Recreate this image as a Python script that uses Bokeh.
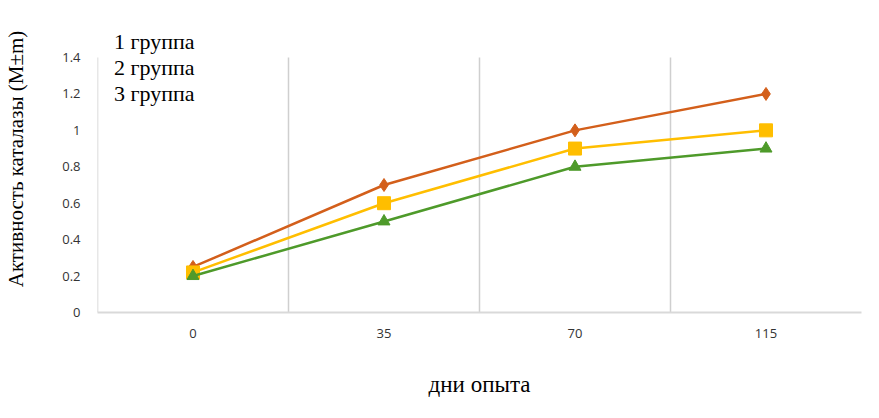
from bokeh.plotting import figure
from bokeh.models import FixedTicker, Legend, LegendItem, BoxAnnotation
from bokeh.embed import file_html
from bokeh.resources import INLINE

# ---- data ----
days = ["0", "35", "70", "115"]
group_names = ["1 группа", "2 группа", "3 группа"]
g1 = [0.25, 0.70, 1.00, 1.20]
g2 = [0.22, 0.60, 0.90, 1.00]
g3 = [0.20, 0.50, 0.80, 0.90]
y_ticks = [0, 0.2, 0.4, 0.6, 0.8, 1.0, 1.2, 1.4]
y_tick_labels = ["0", "0.2", "0.4", "0.6", "0.8", "1", "1.2", "1.4"]

# category centres on a numeric axis (one unit per category)
xs = [i + 0.5 for i in range(len(days))]
bounds = list(range(len(days)))
y_max = y_ticks[-1]

W, H = 863, 402
FRAME_TOP, FRAME_BOTTOM, VALUE_TOP = 5, 312, 57   # pixel layout
y_top = y_max * (FRAME_BOTTOM - FRAME_TOP) / (FRAME_BOTTOM - VALUE_TOP)

p = figure(width=W, height=H, output_backend="svg", toolbar_location=None,
           x_range=(0, len(days)), y_range=(0, y_top),
           min_border_left=97, min_border_right=2, min_border_top=FRAME_TOP,
           min_border_bottom=H - FRAME_BOTTOM)
p.outline_line_color = None
p.background_fill_color = "white"
p.border_fill_color = "white"

# chart area border (light)
p.add_layout(BoxAnnotation(left=47, right=875, top=-5, bottom=392,
                           left_units="canvas", right_units="canvas",
                           top_units="canvas", bottom_units="canvas",
                           fill_alpha=0, line_color="#d6d6d6", line_width=1.5,
                           level="overlay"))

# axes
p.xaxis.ticker = FixedTicker(ticks=xs)
p.xaxis.major_label_overrides = {x: d for x, d in zip(xs, days)}
p.xaxis.major_tick_line_color = None
p.xaxis.minor_tick_line_color = None
p.xaxis.axis_line_color = "#d9d9d9"
p.xaxis.axis_line_width = 2
p.xaxis.major_label_text_font = "Open Sans"
p.xaxis.major_label_text_font_size = "13px"
p.xaxis.major_label_text_color = "#333333"
p.xaxis.major_label_standoff = 10
p.xaxis.axis_label = "дни опыта"
p.xaxis.axis_label_text_font = "Liberation Serif"
p.xaxis.axis_label_text_font_style = "normal"
p.xaxis.axis_label_text_font_size = "23px"
p.xaxis.axis_label_text_color = "black"
p.xaxis.axis_label_standoff = 31

p.yaxis.ticker = FixedTicker(ticks=y_ticks)
p.yaxis.major_label_overrides = {t: l for t, l in zip(y_ticks, y_tick_labels)}
p.yaxis.major_tick_line_color = None
p.yaxis.minor_tick_line_color = None
p.yaxis.axis_line_color = None
p.yaxis.major_label_text_font = "Open Sans"
p.yaxis.major_label_text_font_size = "13px"
p.yaxis.major_label_text_color = "#333333"
p.yaxis.major_label_standoff = 11
p.yaxis.axis_label = "Активность каталазы (M±m)"
p.yaxis.axis_label_text_font = "Liberation Serif"
p.yaxis.axis_label_text_font_style = "normal"
p.yaxis.axis_label_text_font_size = "21px"
p.yaxis.axis_label_text_color = "black"
p.yaxis.axis_label_standoff = 31

# grids: vertical lines at category boundaries only, from 0 to the top tick
p.xgrid.grid_line_color = None
p.ygrid.grid_line_color = None
p.segment(x0=bounds, y0=[0] * len(bounds), x1=bounds, y1=[y_max] * len(bounds),
          line_color="#cfcfcf", line_width=1.5)

colors = ["#D35F1B", "#FFBE00", "#4E9A2A"]
markers = ["diamond", "square", "triangle"]
sizes = [13, 13, 12]
series = [g1, g2, g3]

items = []
for name, vals, c, m, s in zip(group_names, series, colors, markers, sizes):
    r1 = p.line(xs, vals, line_color=c, line_width=2.5)
    r2 = p.scatter(xs, vals, marker=m, size=s, fill_color=c, line_color=c)
    items.append(LegendItem(label=name, renderers=[r1, r2]))

legend = Legend(items=items, location=(17, 205), glyph_width=0, glyph_height=26,
                label_height=26, label_standoff=0, spacing=0, padding=0, margin=0,
                label_text_font="Liberation Serif", label_text_font_size="22px",
                label_text_color="black", background_fill_alpha=0,
                border_line_color=None)
p.add_layout(legend, "center")

open("out.html", "w").write(file_html(p, INLINE))
